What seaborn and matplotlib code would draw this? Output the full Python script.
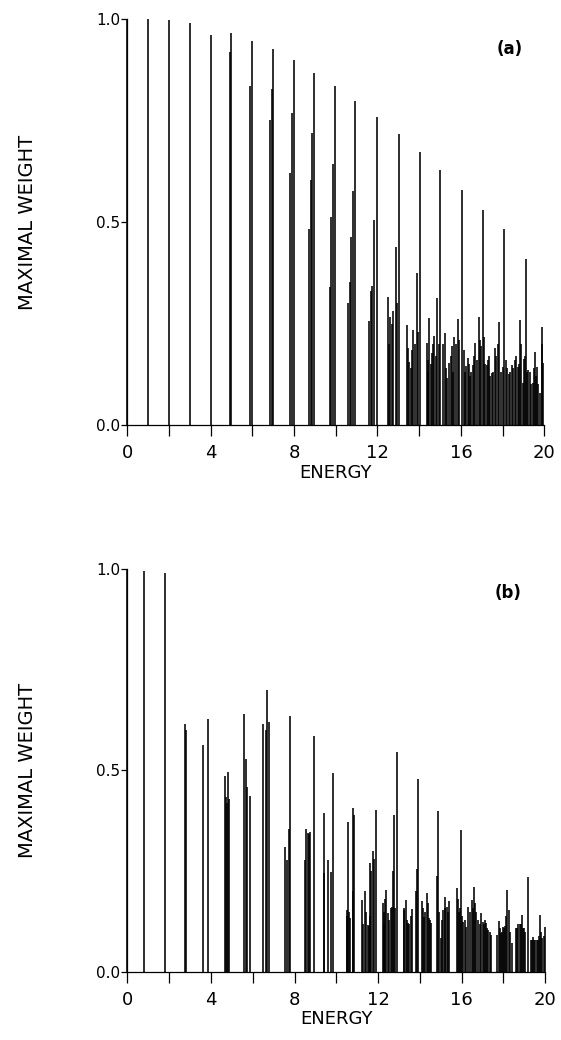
import matplotlib
matplotlib.use("Agg")
import matplotlib.pyplot as plt
import seaborn as sns

# (a) energies and maximal weights
energy_a = [0.0, 1.0, 2.0, 3.0, 4.0,
            4.95, 5.0, 5.9, 6.0,
            6.87, 6.93, 7.0, 7.8, 7.9, 7.99,
            8.72, 8.8, 8.87, 8.97,
            9.71, 9.79, 9.87, 9.96,
            10.59, 10.67, 10.75, 10.83, 10.93,
            11.6, 11.67, 11.76, 11.84, 11.98,
            12.48, 12.55, 12.6, 12.68, 12.76, 12.87, 12.95, 13.02,
            13.43, 13.48, 13.53, 13.6, 13.64, 13.72, 13.8, 13.88, 13.95, 14.03,
            14.36, 14.4, 14.44, 14.49, 14.55, 14.6, 14.65, 14.71, 14.78, 14.85,
            14.93, 15.01,
            15.15, 15.23, 15.28, 15.33, 15.44, 15.5, 15.55, 15.6, 15.68, 15.75,
            15.84, 15.92, 16.03,
            16.13, 16.18, 16.24, 16.32, 16.38, 16.45, 16.5, 16.56, 16.62, 16.67,
            16.75, 16.85, 16.9, 16.96, 17.06,
            17.12, 17.17, 17.23, 17.28, 17.33, 17.4, 17.47, 17.55, 17.63, 17.7,
            17.78, 17.84, 17.92, 18.0, 18.08,
            18.16, 18.22, 18.28, 18.35, 18.45, 18.5, 18.57, 18.63, 18.72, 18.78,
            18.85, 18.9, 18.96, 19.04, 19.08, 19.13,
            19.17, 19.21, 19.29, 19.35, 19.45, 19.5, 19.57, 19.6, 19.65, 19.7,
            19.81, 19.86, 19.9, 19.93]
weight_a = [1.0, 1.0, 0.997, 0.991, 0.960,
            0.92, 0.965, 0.835, 0.947,
            0.751, 0.827, 0.926, 0.621, 0.769, 0.899,
            0.484, 0.603, 0.72, 0.868,
            0.339, 0.513, 0.643, 0.835,
            0.30, 0.353, 0.464, 0.576, 0.798,
            0.257, 0.331, 0.342, 0.505, 0.759,
            0.316, 0.20, 0.265, 0.249, 0.28, 0.439, 0.30, 0.718,
            0.246, 0.19, 0.156, 0.14, 0.186, 0.234, 0.20, 0.375, 0.23, 0.673,
            0.201, 0.16, 0.131, 0.263, 0.15, 0.177, 0.20, 0.219, 0.17, 0.314,
            0.20, 0.628,
            0.20, 0.226, 0.14, 0.117, 0.152, 0.17, 0.195, 0.13, 0.216, 0.20,
            0.26, 0.21, 0.579,
            0.186, 0.13, 0.145, 0.164, 0.15, 0.121, 0.13, 0.148, 0.17, 0.203,
            0.16, 0.265, 0.21, 0.195, 0.53,
            0.218, 0.15, 0.148, 0.16, 0.17, 0.12, 0.129, 0.13, 0.19, 0.17,
            0.20, 0.255, 0.13, 0.144, 0.483,
            0.16, 0.14, 0.126, 0.13, 0.148, 0.14, 0.16, 0.17, 0.144, 0.15,
            0.259, 0.20, 0.104, 0.162, 0.17, 0.41,
            0.13, 0.135, 0.131, 0.10, 0.103, 0.14, 0.18, 0.12, 0.144, 0.10,
            0.078, 0.242, 0.20, 0.152]

# (b) energies and maximal weights
energy_b = [0.0, 0.8, 1.8, 2.77, 2.82, 3.6, 3.87,
            4.67, 4.73, 4.77, 4.81, 4.86,
            5.58, 5.66, 5.71, 5.87,
            6.51, 6.64, 6.7, 6.8,
            7.56, 7.64, 7.72, 7.77,
            8.52, 8.56, 8.64, 8.7, 8.76, 8.92,
            9.4, 9.43, 9.59, 9.76, 9.84,
            10.49, 10.52, 10.55, 10.6, 10.65, 10.78, 10.8, 10.84,
            11.23, 11.27, 11.39, 11.43, 11.5, 11.56, 11.6, 11.63, 11.68, 11.76,
            11.82, 11.89,
            12.24, 12.27, 12.3, 12.35, 12.4, 12.48, 12.52, 12.6, 12.67, 12.7,
            12.75, 12.8, 12.88,
            13.22, 13.26, 13.32, 13.37, 13.43, 13.5, 13.58, 13.64, 13.8, 13.85,
            13.91,
            14.12, 14.15, 14.2, 14.25, 14.33, 14.38, 14.44, 14.5, 14.55,
            14.8, 14.86, 14.9, 14.99, 15.05, 15.12, 15.18, 15.22, 15.28, 15.35,
            15.41,
            15.76, 15.8, 15.87, 15.92, 15.97, 16.02, 16.08, 16.14, 16.2,
            16.31, 16.38, 16.47, 16.53, 16.6, 16.65, 16.7, 16.8, 16.87, 16.92,
            17.0, 17.05, 17.1, 17.15, 17.22, 17.28, 17.34, 17.4,
            17.7, 17.77, 17.83, 17.89, 17.93, 17.97, 18.02, 18.08, 18.13, 18.18,
            18.26, 18.3, 18.41,
            18.62, 18.66, 18.7, 18.77, 18.83, 18.89, 18.94, 18.99, 19.05, 19.15,
            19.34, 19.38, 19.42, 19.48, 19.53, 19.58, 19.63, 19.68, 19.74, 19.8,
            19.85, 19.92, 19.98]
weight_b = [1.0, 0.995, 0.99, 0.615, 0.60, 0.562, 0.628,
            0.486, 0.435, 0.42, 0.496, 0.43,
            0.641, 0.528, 0.46, 0.437,
            0.616, 0.60, 0.70, 0.62,
            0.31, 0.278, 0.354, 0.635,
            0.278, 0.356, 0.344, 0.342, 0.348, 0.586,
            0.394, 0.245, 0.278, 0.249, 0.493,
            0.154, 0.14, 0.372, 0.15, 0.133, 0.408, 0.20, 0.39,
            0.179, 0.12, 0.2, 0.15, 0.117, 0.115, 0.14, 0.27, 0.25, 0.299,
            0.28, 0.402,
            0.17, 0.15, 0.12, 0.18, 0.203, 0.146, 0.13, 0.16, 0.162, 0.25,
            0.39, 0.16, 0.547,
            0.154, 0.16, 0.179, 0.13, 0.121, 0.12, 0.14, 0.156, 0.20, 0.255,
            0.48,
            0.175, 0.16, 0.137, 0.15, 0.195, 0.17, 0.133, 0.13, 0.121,
            0.237, 0.40, 0.15, 0.084, 0.13, 0.154, 0.185, 0.16, 0.162, 0.15,
            0.175,
            0.208, 0.18, 0.15, 0.16, 0.352, 0.14, 0.125, 0.13, 0.112,
            0.162, 0.15, 0.179, 0.16, 0.212, 0.17, 0.15, 0.13, 0.12, 0.146,
            0.125, 0.12, 0.13, 0.122, 0.11, 0.104, 0.10, 0.092,
            0.092, 0.127, 0.11, 0.096, 0.10, 0.112, 0.11, 0.114, 0.14, 0.203,
            0.154, 0.10, 0.071,
            0.108, 0.11, 0.119, 0.12, 0.12, 0.141, 0.11, 0.108, 0.10, 0.235,
            0.079, 0.08, 0.086, 0.08, 0.079, 0.08, 0.079, 0.09, 0.141, 0.10,
            0.084, 0.09, 0.112]

x_ticks = list(range(0, 21, 2))
x_labels = [str(t) if t % 4 == 0 else "" for t in x_ticks]
y_ticks = [0.0, 0.5, 1.0]
y_labels = ["0.0", "0.5", "1.0"]

sns.set_style("ticks")
plt.rcParams["font.family"] = ["DejaVu Sans"]
plt.rcParams["text.color"] = "black"
plt.rcParams["axes.labelcolor"] = "black"
plt.rcParams["xtick.color"] = "black"
plt.rcParams["ytick.color"] = "black"

fig = plt.figure(figsize=(5.61, 10.4), dpi=100)
ax_a = fig.add_axes([0.2265, 0.5913, 0.744, 0.3904])
ax_b = fig.add_axes([0.2270, 0.0654, 0.745, 0.3875])


def stick_panel(ax, energy, weight, tag, tag_xy):
    ax.vlines(energy, 0, weight, color="black", lw=1.15, clip_on=False)
    ax.set_xlim(0, 20)
    ax.set_ylim(0, 1)
    ax.set_xticks(x_ticks)
    ax.set_xticklabels(x_labels, fontsize=13)
    ax.set_yticks(y_ticks)
    ax.set_yticklabels(y_labels, fontsize=11)
    ax.tick_params(axis="x", direction="out", length=8, width=0.9, pad=6)
    ax.tick_params(axis="y", direction="out", length=4.5, width=0.9, pad=0.5)
    for side in ["left", "bottom"]:
        ax.spines[side].set_linewidth(0.9)
        ax.spines[side].set_color("black")
    sns.despine(ax=ax)
    ax.set_xlabel("ENERGY", fontsize=13)
    ax.set_ylabel("MAXIMAL WEIGHT", fontsize=14)
    ax.xaxis.set_label_coords(0.5, -0.095)
    ax.yaxis.set_label_coords(-0.215, 0.5)
    ax.text(tag_xy[0], tag_xy[1], tag, fontsize=12, fontweight="semibold",
            ha="center", va="center")


stick_panel(ax_a, energy_a, weight_a, "(a)", (18.35, 0.926))
stick_panel(ax_b, energy_b, weight_b, "(b)", (18.2, 0.94))

fig.savefig("out.png", dpi=100)
